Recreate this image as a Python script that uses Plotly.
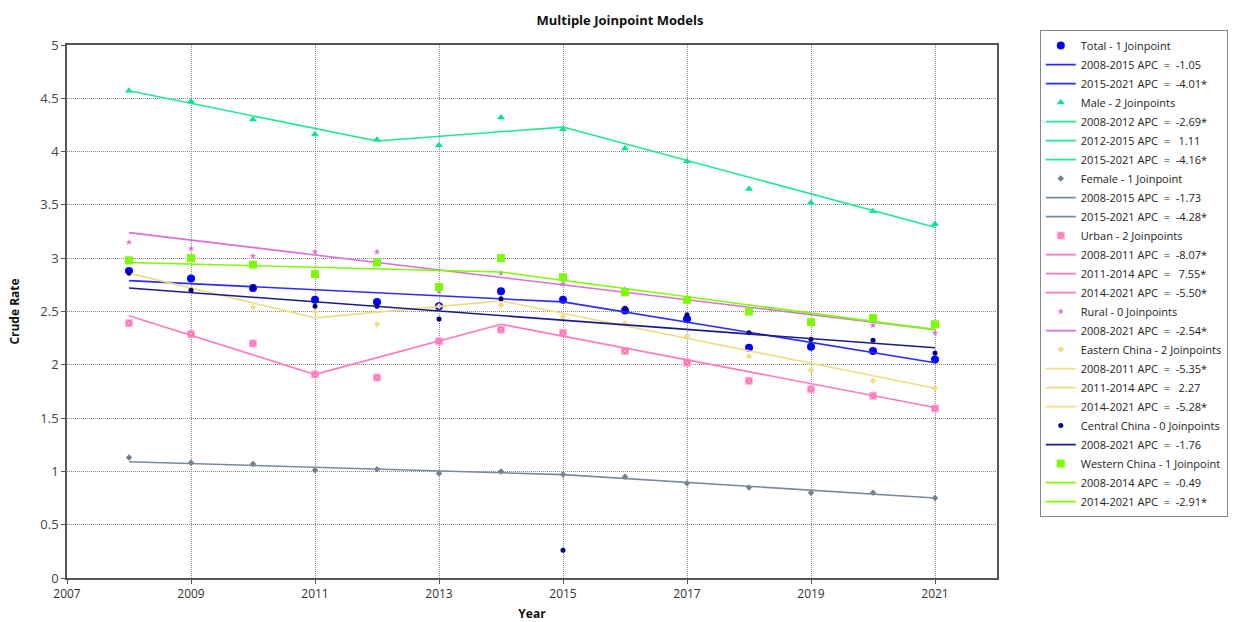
import plotly.graph_objects as go

years = list(range(2008, 2022))

total = [2.88, 2.81, 2.72, 2.61, 2.59, 2.55, 2.69, 2.61, 2.51, 2.43, 2.16, 2.17, 2.13, 2.05]
male = [4.57, 4.47, 4.30, 4.16, 4.11, 4.06, 4.32, 4.21, 4.03, 3.91, 3.65, 3.52, 3.44, 3.32]
female = [1.13, 1.08, 1.07, 1.01, 1.02, 0.98, 1.00, 0.97, 0.95, 0.89, 0.85, 0.80, 0.80, 0.75]
urban = [2.39, 2.29, 2.20, 1.91, 1.88, 2.22, 2.33, 2.30, 2.13, 2.02, 1.85, 1.77, 1.71, 1.59]
rural = [3.15, 3.09, 3.02, 3.06, 3.06, 2.69, 2.86, 2.76, 2.71, 2.62, 2.50, 2.40, 2.37, 2.30]
eastern = [2.85, 2.71, 2.54, 2.50, 2.38, 2.55, 2.56, 2.45, 2.39, 2.27, 2.08, 1.95, 1.85, 1.78]
central = [2.86, 2.70, 2.73, 2.55, 2.55, 2.43, 2.62, 0.26, 2.53, 2.47, 2.30, 2.24, 2.23, 2.11]
western = [2.98, 3.00, 2.94, 2.85, 2.96, 2.73, 3.00, 2.82, 2.68, 2.61, 2.50, 2.40, 2.44, 2.38]

# fitted joinpoint segment endpoints (year, value)
total_fit_x = [2008, 2015, 2021]
total_fit_y = [2.79, 2.59, 2.02]
male_fit_x = [2008, 2012, 2015, 2021]
male_fit_y = [4.57, 4.10, 4.23, 3.29]
female_fit_x = [2008, 2015, 2021]
female_fit_y = [1.09, 0.97, 0.75]
urban_fit_x = [2008, 2011, 2014, 2021]
urban_fit_y = [2.46, 1.91, 2.38, 1.60]
rural_fit_x = [2008, 2021]
rural_fit_y = [3.24, 2.33]
eastern_fit_x = [2008, 2011, 2014, 2021]
eastern_fit_y = [2.86, 2.44, 2.60, 1.78]
central_fit_x = [2008, 2021]
central_fit_y = [2.72, 2.16]
western_fit_x = [2008, 2014, 2021]
western_fit_y = [2.96, 2.87, 2.33]

total_apc = ["-1.05", "-4.01*"]
male_apc = ["-2.69*", "1.11", "-4.16*"]
female_apc = ["-1.73", "-4.28*"]
urban_apc = ["-8.07*", "7.55*", "-5.50*"]
rural_apc = ["-2.54*"]
eastern_apc = ["-5.35*", "2.27", "-5.28*"]
central_apc = ["-1.76"]
western_apc = ["-0.49", "-2.91*"]

groups = [
    ("Total - 1 Joinpoint", total, total_fit_x, total_fit_y, total_apc, "#0000FF", "#2B2BFF", "circle", 8, None),
    ("Male - 2 Joinpoints", male, male_fit_x, male_fit_y, male_apc, "#00E68C", "#1EE894", "triangle-up", 7, None),
    ("Female - 1 Joinpoint", female, female_fit_x, female_fit_y, female_apc, "#708090", "#7A8A9A", "diamond", 5, None),
    ("Urban - 2 Joinpoints", urban, urban_fit_x, urban_fit_y, urban_apc, "#FF69B4", "#FF7ABC", "square-x", 7, "#FFB6DA"),
    ("Rural - 0 Joinpoints", rural, rural_fit_x, rural_fit_y, rural_apc, "#DA70D6", "#DA70D6", "star", 5, None),
    ("Eastern China - 2 Joinpoints", eastern, eastern_fit_x, eastern_fit_y, eastern_apc, "#EEDD82", "#EEDD82", "diamond", 5, None),
    ("Central China - 0 Joinpoints", central, central_fit_x, central_fit_y, central_apc, "#000080", "#1A1A8C", "circle", 5, None),
    ("Western China - 1 Joinpoint", western, western_fit_x, western_fit_y, western_apc, "#7CFC00", "#7CFC00", "square", 8, None),
]

NB = "\u00a0"
fig = go.Figure()
for name, vals, fx, fy, apcs, mcolor, lcolor, sym, size, edge in groups:
    fig.add_trace(go.Scatter(
        x=years, y=vals, mode="markers", name=name,
        marker=dict(color=mcolor, symbol=sym, size=size,
                    line=dict(width=1 if edge else 0, color=edge or mcolor)),
    ))
    for i, apc in enumerate(apcs):
        sign_pad = NB if not apc.startswith("-") else ""
        label = f"{fx[i]}-{fx[i+1]} APC{NB}{NB}={NB}{NB}{sign_pad}{apc}"
        fig.add_trace(go.Scatter(
            x=[fx[i], fx[i + 1]], y=[fy[i], fy[i + 1]], mode="lines", name=label,
            line=dict(color=lcolor, width=1.6),
        ))

font_family = "Open Sans, Noto Sans, DejaVu Sans, sans-serif"
grid = dict(showgrid=True, gridcolor="#8A8A8A", griddash="1px,1px", gridwidth=1,
            showline=True, linecolor="#555", linewidth=1.5, mirror=True,
            ticks="outside", ticklen=4, tickcolor="#555", zeroline=False, automargin=False)
fig.update_layout(
    width=1240, height=622,
    margin=dict(l=67, r=243, t=45, b=44, autoexpand=False),
    paper_bgcolor="white", plot_bgcolor="white",
    font=dict(family=font_family, size=12, color="#333"),
    title=dict(text="<b>Multiple Joinpoint Models</b>", x=0.5, xanchor="center",
               y=1 - 20 / 622, yanchor="middle", font=dict(size=13, color="#111")),
    showlegend=True,
    legend=dict(x=1.046, y=1.028, xanchor="left", yanchor="top",
                bordercolor="#888", borderwidth=1, font=dict(size=11, color="#222"),
                tracegroupgap=0, itemwidth=30, maxheight=600),
    xaxis=dict(range=[2007, 2022], tickvals=list(range(2007, 2022, 2)),
               tickfont=dict(size=12, color="#333"),
               title=dict(text="<b>Year</b>", font=dict(size=12, color="#111"), standoff=10),
               **grid),
    yaxis=dict(range=[0, 5], dtick=0.5, tick0=0,
               tickfont=dict(size=13, color="#444"),
               title=dict(text="<b>Crude Rate</b>", font=dict(size=12, color="#111"), standoff=18),
               **grid),
)

fig.write_html("out.html", config={"displayModeBar": False},
               post_script="document.body.style.margin='0';document.body.style.overflow='hidden';")
